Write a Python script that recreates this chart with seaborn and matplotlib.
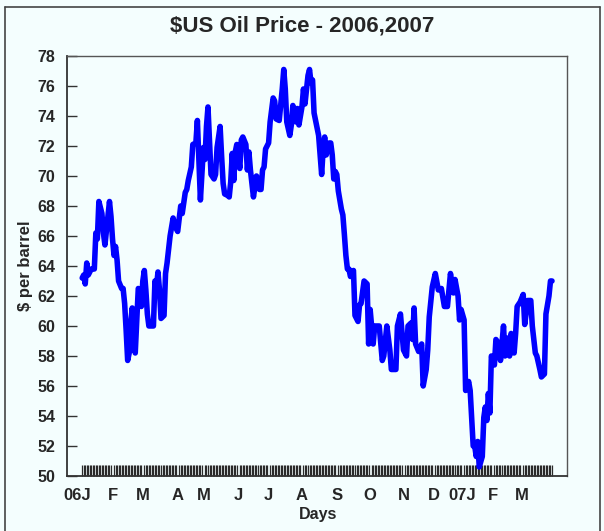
## US oil price 2006-2007 line chart

## Import Libraries
import numpy as np
import matplotlib
matplotlib.use("Agg")
import matplotlib.pyplot as plt
import pandas as pd
import seaborn as sns

### Data (trading day index, $ per barrel)
days = [0, 1, 2, 3, 4, 6, 8, 9, 10, 11, 13, 14, 15, 17, 18, 19, 20, 21, 22, 23,
        24, 26, 27, 28, 29, 30, 31, 32, 33, 34, 35, 36, 37, 38, 39, 40, 41, 42, 43, 44,
        47, 48, 49, 50, 51, 52, 54, 55, 56, 58, 59, 60, 61, 62, 63, 65, 66, 68, 69, 70,
        72, 73, 75, 76, 77, 78, 80, 81, 82, 83, 84, 85, 87, 88, 89, 91, 92, 93, 94, 96,
        97, 98, 99, 100, 101, 102, 104, 105, 106, 108, 109, 110, 111, 113, 114, 115, 117, 118, 119, 120,
        121, 123, 124, 126, 127, 128, 130, 132, 133, 134, 135, 137, 138, 139, 141, 142, 143, 145, 146, 147,
        149, 150, 151, 152, 153, 154, 156, 157, 158, 159, 160, 161, 163, 164, 165, 166, 167, 168, 169, 171,
        172, 173, 174, 175, 176, 177, 179, 180, 182, 183, 184, 186, 188, 189, 190, 192, 193, 196, 198, 199,
        201, 203, 204, 207, 208, 210, 212, 214, 215, 217, 218, 219, 220, 222, 224, 225, 227, 228, 229, 231,
        233, 235, 237, 239, 241, 243, 245, 246, 248, 249, 250, 252, 253, 255, 256, 258, 259, 260, 261, 262,
        264, 265, 266, 267, 268, 269, 270, 272, 273, 275, 276, 278, 279, 281, 282, 283, 285, 286, 287, 289,
        291, 292, 294, 296, 297, 299, 300, 302, 303, 305, 306, 308, 309, 310]
price = [63.2, 63.4, 62.8, 64.2, 63.4, 63.8, 63.8, 66.2, 65.8, 68.3, 67.5, 66.2, 65.4, 67.3, 68.3, 67.3, 65.8, 64.7, 65.3, 64.4,
         63.0, 62.5, 62.5, 61.5, 59.7, 57.7, 58.2, 60.2, 61.2, 59.3, 58.2, 60.4, 62.5, 62.4, 61.3, 63.0, 63.7, 62.4, 60.8, 60.0,
         60.0, 63.0, 62.6, 63.6, 62.4, 60.5, 60.7, 63.5, 64.2, 66.0, 66.6, 67.2, 66.7, 66.5, 66.3, 68.0, 67.5, 68.9, 69.1, 69.7,
         70.6, 72.1, 72.2, 73.7, 71.1, 68.4, 71.9, 71.1, 73.3, 74.6, 72.4, 70.1, 69.8, 70.1, 71.9, 73.3, 71.3, 69.5, 68.8, 68.7,
         68.6, 69.6, 71.5, 69.7, 71.6, 72.1, 70.5, 72.4, 72.6, 72.1, 70.4, 71.6, 70.4, 68.6, 69.3, 70.0, 69.1, 69.1, 70.4, 70.6,
         71.8, 72.2, 73.6, 75.2, 75.0, 73.8, 73.7, 75.8, 77.1, 75.8, 73.6, 72.7, 73.4, 74.7, 73.6, 74.5, 73.4, 74.6, 75.8, 74.8,
         76.7, 77.1, 76.2, 76.4, 74.2, 73.7, 72.7, 71.4, 70.1, 71.8, 72.6, 71.4, 72.2, 72.2, 71.4, 69.8, 70.3, 70.1, 69.0, 67.8,
         67.4, 66.1, 64.7, 63.8, 63.8, 63.3, 63.7, 60.7, 60.3, 61.4, 61.5, 63.0, 62.8, 58.8, 61.1, 58.8, 60.0, 60.0, 57.7, 58.0,
         60.0, 58.4, 57.1, 57.1, 60.0, 60.8, 58.4, 58.0, 60.0, 60.2, 59.1, 61.2, 58.8, 58.3, 58.8, 56.0, 57.1, 58.4, 60.6, 62.6,
         63.5, 62.4, 62.5, 61.3, 61.3, 63.5, 62.2, 63.1, 62.0, 60.4, 61.1, 60.4, 55.7, 56.3, 55.7, 52.0, 52.0, 51.3, 52.3, 50.6,
         51.3, 53.9, 54.6, 53.7, 55.5, 54.2, 58.0, 57.4, 59.1, 58.8, 57.7, 60.0, 58.0, 59.2, 58.0, 59.5, 58.2, 59.5, 61.3, 61.6,
         62.1, 60.1, 61.7, 61.7, 60.0, 58.2, 58.0, 57.1, 56.6, 56.8, 60.8, 62.0, 63.0, 63.0]

month_pos = [-3, 20, 40, 63, 80, 103, 123, 145, 168, 190, 212, 232, 251, 271, 290]
month_labels = ["06J", "F", "M", "A", "M", "J", "J", "A", "S", "O", "N", "D", "07J", "F", "M"]
y_ticks = list(range(50, 80, 2))

df = pd.DataFrame({"Day": days, "Price": price})

### Style
bg = "#F4FEFE"
sns.set_style("ticks")
plt.rcParams["font.family"] = ["Liberation Sans", "DejaVu Sans"]
plt.rcParams["font.weight"] = "bold"

fig = plt.figure(figsize=(6.04, 5.31), dpi=100, facecolor=bg)
ax = fig.add_axes([0.111, 0.1036, 0.828, 0.791], facecolor=bg)

### Plot
sns.lineplot(data=df, x="Day", y="Price", ax=ax, color="#0000FF", linewidth=4.0,
             solid_joinstyle="round", solid_capstyle="round")

ax.set_xlim(-10, 320)
ax.set_ylim(50, 78)

ax.set_yticks(y_ticks)
ax.set_yticklabels([str(v) for v in y_ticks], fontsize=11.5, fontweight="bold")
ax.tick_params(axis="y", direction="in", length=7.5, width=1, color="#333333", pad=8.5)

ax.set_xticks(month_pos)
ax.set_xticklabels(month_labels, fontsize=12, fontweight="bold")
ax.tick_params(axis="x", which="major", length=0, pad=9)
# one small inward tick per trading day
ax.set_xticks(np.arange(0, 311), minor=True)
ax.tick_params(axis="x", which="minor", direction="in", length=8, width=0.9, color="#2a2a2a")

for side in ["left", "bottom"]:
    ax.spines[side].set_color("#333333")
    ax.spines[side].set_linewidth(1.3)
for side in ["top", "right"]:
    ax.spines[side].set_color("#555555")
    ax.spines[side].set_linewidth(1.0)

ax.set_xlabel("Days", fontsize=11.5, fontweight="bold")
ax.xaxis.set_label_coords(0.502, -0.074)
ax.set_ylabel("$ per barrel", fontsize=12, fontweight="bold")
ax.yaxis.set_label_coords(-0.068, 0.5)

fig.text(0.5, 1 - 26 / 531, "$US Oil Price - 2006,2007", ha="center", va="center",
         fontsize=16, fontweight="bold")

# outer frame
fig.add_artist(plt.Line2D([5 / 604, 5 / 604], [0, 1 - 7 / 531], color="#444444", lw=1.2))
fig.add_artist(plt.Line2D([5 / 604, 600 / 604], [1 - 7 / 531, 1 - 7 / 531], color="#444444", lw=1.2))
fig.add_artist(plt.Line2D([600 / 604, 600 / 604], [0, 1 - 7 / 531], color="#444444", lw=1.2))

fig.savefig("out.png", dpi=100, facecolor=bg)
